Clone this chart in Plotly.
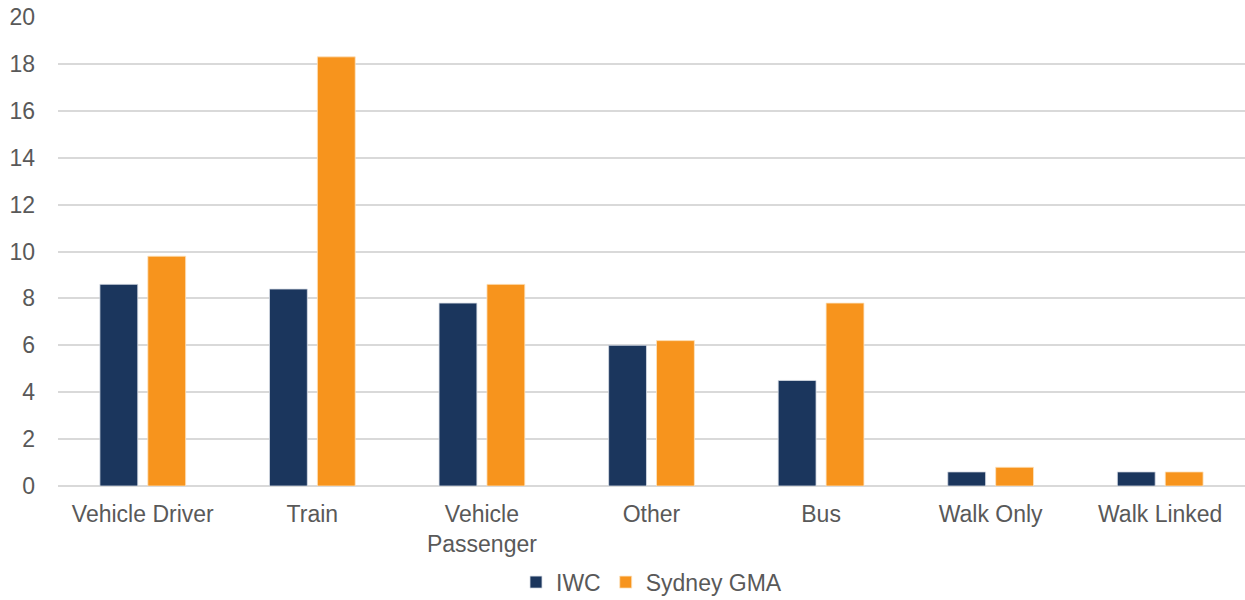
import plotly.graph_objects as go

categories = ["Vehicle Driver", "Train", "Vehicle<br>Passenger", "Other", "Bus", "Walk Only", "Walk Linked"]
iwc = [8.6, 8.4, 7.8, 6.0, 4.5, 0.6, 0.6]
sydney = [9.8, 18.3, 8.6, 6.2, 7.8, 0.8, 0.6]
y_ticks = [0, 2, 4, 6, 8, 10, 12, 14, 16, 18, 20]

NAVY = "#1b365d"
ORANGE = "#f7941d"
TEXT = "#595959"

fig = go.Figure()
fig.add_trace(go.Bar(x=categories, y=iwc, name="IWC", marker=dict(color=NAVY, line=dict(color="#d8dde6", width=0.8))))
fig.add_trace(go.Bar(x=categories, y=sydney, name="Sydney GMA", marker=dict(color=ORANGE, line=dict(color="#fde3c0", width=0.8))))

fig.update_layout(
    width=1245, height=600,
    margin=dict(l=58, r=0, t=17, b=114, autoexpand=False),
    paper_bgcolor="white", plot_bgcolor="white",
    barmode="group", bargap=0.435, bargroupgap=0.21,
    font=dict(family="Liberation Sans, Arial, sans-serif", size=23, color=TEXT),
    showlegend=True,
    legend=dict(orientation="h", x=0.5, xanchor="center", y=-0.205, yanchor="middle",
                font=dict(size=23, color=TEXT), itemwidth=30, traceorder="normal"),
    xaxis=dict(showgrid=False, showline=False, ticks="", ticklabelstandoff=12, automargin=False,
               tickfont=dict(size=23, color=TEXT)),
    yaxis=dict(range=[0, 20], tickvals=y_ticks, showgrid=True, gridcolor="#d9d9d9", gridwidth=1.5,
               zeroline=True, zerolinecolor="#d9d9d9", zerolinewidth=1.5, automargin=False,
               ticks="", ticklabelstandoff=22, tickfont=dict(size=23, color=TEXT)),
)

fig.write_html("out.html")
